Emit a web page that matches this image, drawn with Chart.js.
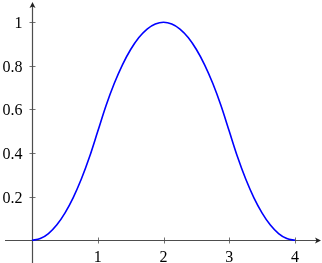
<!DOCTYPE html>
<html>
<head>
<meta charset="utf-8">
<script src="https://cdn.jsdelivr.net/npm/chart.js@4"></script>
<style>
html,body{margin:0;padding:0;background:#fff;}
canvas{display:block;}
</style>
</head>
<body>
<canvas id="c" width="322" height="263"></canvas>
<script>
// data
const xValues = [0, 0.125, 0.25, 0.375, 0.5, 0.625, 0.75, 0.875, 1, 1.125, 1.25, 1.375, 1.5, 1.625, 1.75, 1.875, 2,
                 2.125, 2.25, 2.375, 2.5, 2.625, 2.75, 2.875, 3, 3.125, 3.25, 3.375, 3.5, 3.625, 3.75, 3.875, 4];
const yValues = [0, 0.008, 0.031, 0.07, 0.125, 0.195, 0.281, 0.383, 0.5, 0.617, 0.719, 0.805, 0.875, 0.93, 0.969, 0.992, 1,
                 0.992, 0.969, 0.93, 0.875, 0.805, 0.719, 0.617, 0.5, 0.383, 0.281, 0.195, 0.125, 0.07, 0.031, 0.008, 0];
const xTicks = [1, 2, 3, 4];
const yTicks = [0.2, 0.4, 0.6, 0.8, 1];
const xRange = [-0.411, 4.395];
const yRange = [-0.104, 1.093];

const axisColor = '#4d4d4d';
const fontCss = '16px "Liberation Serif"';

const axes = {
  id: 'centerAxes',
  beforeDatasetsDraw(chart) {
    const ctx = chart.ctx;
    const xs = chart.scales.x, ys = chart.scales.y;
    const area = chart.chartArea;
    const ay = Math.round(ys.getPixelForValue(0)) + 0.5;
    const ax = Math.round(xs.getPixelForValue(0)) + 0.5;
    ctx.save();
    ctx.strokeStyle = axisColor;
    ctx.lineWidth = 1.2;
    // axis lines
    ctx.beginPath(); ctx.moveTo(area.left, ay); ctx.lineTo(area.right - 3, ay); ctx.stroke();
    ctx.beginPath(); ctx.moveTo(ax, area.bottom); ctx.lineTo(ax, area.top + 3); ctx.stroke();
    // tick marks
    ctx.lineWidth = 0.8;
    xTicks.forEach(v => {
      const px = Math.round(xs.getPixelForValue(v)) + 0.5;
      ctx.beginPath(); ctx.moveTo(px, ay - 3); ctx.lineTo(px, ay + 3); ctx.stroke();
    });
    yTicks.forEach(v => {
      const py = Math.round(ys.getPixelForValue(v)) + 0.5;
      ctx.beginPath(); ctx.moveTo(ax - 3, py); ctx.lineTo(ax + 3, py); ctx.stroke();
    });
    // arrows
    ctx.fillStyle = '#222';
    ctx.beginPath();
    ctx.moveTo(area.right, ay);
    ctx.lineTo(area.right - 6, ay - 3);
    ctx.lineTo(area.right - 4.5, ay);
    ctx.lineTo(area.right - 6, ay + 3);
    ctx.closePath(); ctx.fill();
    ctx.beginPath();
    ctx.moveTo(ax, area.top);
    ctx.lineTo(ax - 3, area.top + 6);
    ctx.lineTo(ax, area.top + 4.5);
    ctx.lineTo(ax + 3, area.top + 6);
    ctx.closePath(); ctx.fill();
    // tick labels
    ctx.fillStyle = '#000';
    ctx.font = fontCss;
    ctx.textBaseline = 'alphabetic';
    ctx.textAlign = 'center';
    xTicks.forEach(v => {
      ctx.fillText(String(v), xs.getPixelForValue(v), ay + 21.5);
    });
    ctx.textAlign = 'right';
    yTicks.forEach(v => {
      ctx.fillText(String(v), ax - 10, ys.getPixelForValue(v) + 6);
    });
    ctx.restore();
  }
};

new Chart(document.getElementById('c'), {
  type: 'line',
  data: {
    datasets: [{
      data: xValues.map((x, i) => ({x: x, y: yValues[i]})),
      borderColor: '#0000ff',
      borderWidth: 1.6,
      pointRadius: 0,
      fill: false,
      clip: false,
      cubicInterpolationMode: 'monotone'
    }]
  },
  options: {
    responsive: false,
    animation: false,
    devicePixelRatio: 1,
    layout: {padding: {left: 5, right: 1, top: 2, bottom: 0}},
    plugins: {legend: {display: false}, tooltip: {enabled: false}},
    scales: {
      x: {type: 'linear', min: xRange[0], max: xRange[1], display: false},
      y: {type: 'linear', min: yRange[0], max: yRange[1], display: false}
    }
  },
  plugins: [axes]
});
</script>
</body>
</html>
